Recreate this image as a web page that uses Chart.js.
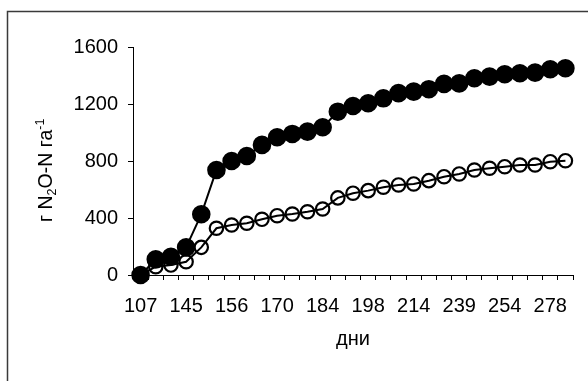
<!DOCTYPE html>
<html>
<head>
<meta charset="utf-8">
<script src="https://cdn.jsdelivr.net/npm/chart.js@4/dist/chart.umd.min.js"></script>
<style>
  body { margin: 0; background: #fff; }
  #wrap { width: 588px; height: 381px; }
</style>
</head>
<body>
<div id="wrap"><canvas id="chart" width="588" height="381"></canvas></div>
<script>
// дни (only every third sampling day is labelled on the axis)
const days = ["107", "", "", "145", "", "", "156", "", "", "170", "", "", "184", "", "",
  "198", "", "", "214", "", "", "239", "", "", "254", "", "", "278", ""];

// г N2O-N га-1, cumulative
const filledSeries = [0, 110, 128, 194, 426, 737, 800, 835, 913, 967, 990, 1006, 1037, 1146, 1186,
  1205, 1240, 1276, 1287, 1304, 1341, 1345, 1381, 1392, 1409, 1416, 1420, 1444, 1451];
const openSeries = [0, 58, 70, 93, 194, 328, 351, 363, 391, 416, 428, 444, 463, 541, 574,
  592, 616, 632, 639, 662, 690, 709, 737, 749, 760, 772, 772, 795, 802];

const yTicks = [0, 400, 800, 1200, 1600];

const FONT = "'Liberation Sans', Arial, sans-serif";

// frame around the whole chart (only left and top edges are inside the picture)
const framePlugin = {
  id: "frame",
  beforeDraw(chart) {
    const ctx = chart.ctx;
    ctx.save();
    ctx.fillStyle = "#fff";
    ctx.fillRect(0, 0, chart.width, chart.height);
    ctx.strokeStyle = "#3a3a3a";
    ctx.lineWidth = 1.5;
    ctx.strokeRect(7.5, 11.5, 700, 500);
    ctx.restore();
  }
};

// y axis title with subscript and superscript
const yTitlePlugin = {
  id: "yTitle",
  afterDraw(chart) {
    const ctx = chart.ctx;
    const parts = [
      { t: "г N", size: 19.5, dy: 0 },
      { t: "2", size: 12.5, dy: 4 },
      { t: "O-N га", size: 19.5, dy: 0 },
      { t: "-1", size: 12.5, dy: -8 }
    ];
    ctx.save();
    ctx.translate(51.5, 222);
    ctx.rotate(-Math.PI / 2);
    ctx.fillStyle = "#000";
    ctx.textBaseline = "alphabetic";
    let x = 0;
    parts.forEach(p => {
      ctx.font = p.size + "px " + FONT;
      ctx.fillText(p.t, x, p.dy);
      x += ctx.measureText(p.t).width;
    });
    ctx.restore();
  }
};

const ctx = document.getElementById("chart").getContext("2d");
new Chart(ctx, {
  type: "line",
  data: {
    labels: days,
    datasets: [
      {
        label: "filled",
        data: filledSeries,
        borderColor: "#000",
        borderWidth: 2,
        backgroundColor: "#000",
        pointBackgroundColor: "#000",
        pointBorderColor: "#000",
        pointBorderWidth: 2,
        pointRadius: 8.3,
        tension: 0,
        clip: false
      },
      {
        label: "open",
        data: openSeries,
        borderColor: "#000",
        borderWidth: 2,
        pointBackgroundColor: "rgba(0,0,0,0)",
        pointBorderColor: "#000",
        pointBorderWidth: 2.2,
        pointRadius: 6.7,
        tension: 0,
        clip: false
      }
    ]
  },
  options: {
    responsive: false,
    animation: false,
    layout: { padding: { top: 47, right: 15, bottom: 0, left: 0 } },
    plugins: {
      legend: { display: false },
      tooltip: { enabled: false }
    },
    scales: {
      x: {
        offset: true,
        grid: {
          offset: true,
          drawOnChartArea: false,
          drawTicks: true,
          tickLength: 5,
          color: "#000"
        },
        border: { display: true, color: "#000", width: 1 },
        ticks: {
          autoSkip: false,
          maxRotation: 0,
          padding: 14,
          color: "#000",
          font: { family: FONT, size: 20 }
        },
        title: {
          display: true,
          text: "дни",
          color: "#000",
          font: { family: FONT, size: 20 },
          padding: { top: 0, bottom: 30 }
        },
        afterFit(scale) { scale.height = 106; }
      },
      y: {
        min: 0,
        max: 1600,
        afterBuildTicks(scale) { scale.ticks = yTicks.map(v => ({ value: v })); },
        grid: {
          drawOnChartArea: false,
          drawTicks: true,
          tickLength: 5,
          color: "#000"
        },
        border: { display: true, color: "#000", width: 1 },
        ticks: {
          padding: 10,
          color: "#000",
          font: { family: FONT, size: 20 },
          callback: v => String(v)
        },
        afterFit(scale) { scale.width = 133; }
      }
    }
  },
  plugins: [framePlugin, yTitlePlugin]
});
</script>
</body>
</html>
